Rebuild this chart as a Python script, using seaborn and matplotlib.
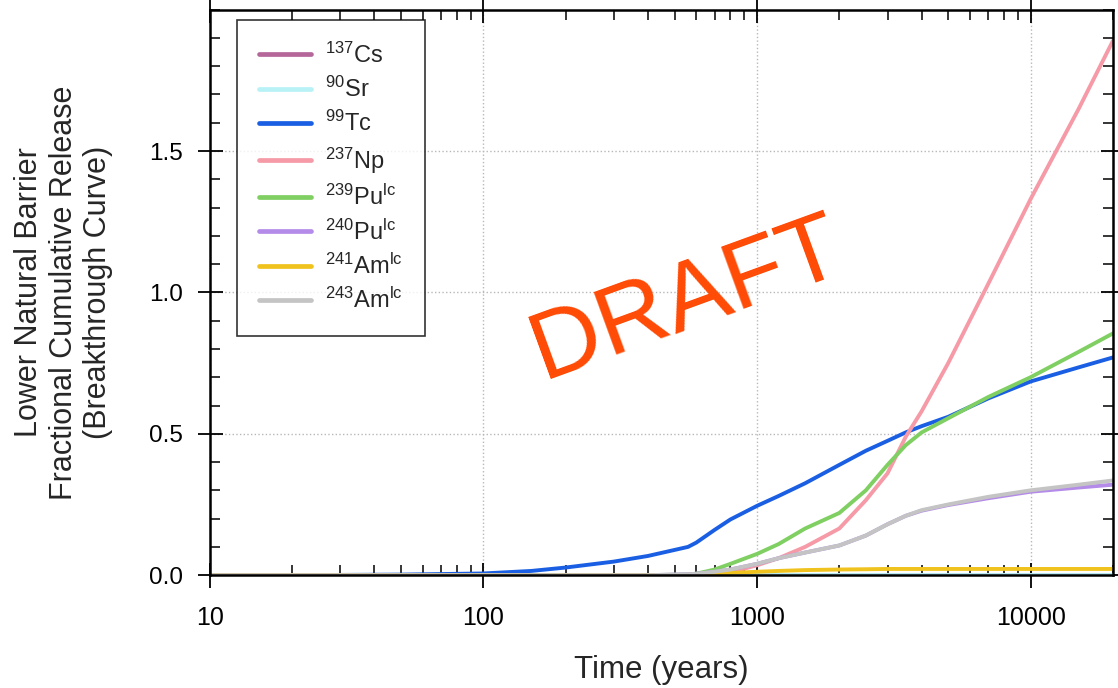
import numpy as np
import pandas as pd
import seaborn as sns
import matplotlib.pyplot as plt
from matplotlib.ticker import MultipleLocator, FixedLocator

# time points (years) shared by every curve
years = [10, 20, 50, 100, 150, 200, 300, 400, 560, 600, 700, 800, 1000, 1200,
         1500, 2000, 2500, 3000, 3500, 4000, 5000, 7000, 10000, 15000, 20000]

cs137 = [0.0] * 25
sr90 = [0.0] * 25
tc99 = [0.0, 0.0, 0.002, 0.006, 0.015, 0.027, 0.048, 0.068, 0.10, 0.115, 0.16,
        0.197, 0.245, 0.28, 0.325, 0.39, 0.44, 0.475, 0.505, 0.527, 0.56, 0.625,
        0.685, 0.735, 0.77]
np237 = [0.0, 0.0, 0.0, 0.0, 0.0, 0.0, 0.0, 0.0, 0.0, 0.0, 0.002, 0.01, 0.035,
         0.06, 0.10, 0.165, 0.265, 0.36, 0.49, 0.58, 0.75, 1.03, 1.33, 1.65, 1.89]
pu239 = [0.0, 0.0, 0.0, 0.0, 0.0, 0.0, 0.0, 0.0, 0.002, 0.005, 0.02, 0.04, 0.075,
         0.11, 0.165, 0.22, 0.30, 0.39, 0.46, 0.505, 0.555, 0.63, 0.70, 0.79, 0.855]
pu240 = [0.0, 0.0, 0.0, 0.0, 0.0, 0.0, 0.0, 0.0, 0.003, 0.005, 0.012, 0.02, 0.04,
         0.06, 0.08, 0.105, 0.14, 0.18, 0.21, 0.228, 0.248, 0.272, 0.295, 0.31, 0.32]
am241 = [0.0, 0.0, 0.0, 0.0, 0.0, 0.0, 0.0, 0.0, 0.0, 0.002, 0.005, 0.008, 0.012,
         0.015, 0.018, 0.02, 0.021, 0.022, 0.022, 0.022, 0.022, 0.022, 0.022, 0.022, 0.022]
am243 = [0.0, 0.0, 0.0, 0.0, 0.0, 0.0, 0.0, 0.0, 0.003, 0.005, 0.012, 0.02, 0.04,
         0.06, 0.08, 0.105, 0.14, 0.18, 0.21, 0.23, 0.25, 0.277, 0.30, 0.32, 0.335]

labels = [r'$^{137}$Cs', r'$^{90}$Sr', r'$^{99}$Tc', r'$^{237}$Np',
          r'$^{239}$Pu$^{lc}$', r'$^{240}$Pu$^{lc}$', r'$^{241}$Am$^{lc}$',
          r'$^{243}$Am$^{lc}$']
series = [cs137, sr90, tc99, np237, pu239, pu240, am241, am243]
colors = ['#b5679a', '#b8f2f6', '#1a5fe3', '#f59aa6', '#80cf62', '#b48be8',
          '#f0c21e', '#c4c4c4']

df = pd.concat([pd.DataFrame({'years': years, 'release': s, 'nuclide': lab})
                for lab, s in zip(labels, series)], ignore_index=True)

sns.set_theme(style='ticks')
plt.rcParams['font.family'] = ['Liberation Sans', 'DejaVu Sans']
plt.rcParams['mathtext.default'] = 'regular'

fig = plt.figure(figsize=(11.18, 6.88), dpi=100)
ax = fig.add_axes([0.1875, 0.164, 0.808, 0.822])

sns.lineplot(data=df, x='years', y='release', hue='nuclide', hue_order=labels,
             palette=colors, linewidth=2.8, ax=ax, legend=True, sort=False)

ax.set_xscale('log')
ax.set_xlim(10, 20000)
ax.set_ylim(0, 2.0)
ax.xaxis.set_major_locator(FixedLocator([10, 100, 1000, 10000]))
ax.set_xticklabels(['10', '100', '1000', '10000'], fontsize=18)
ax.yaxis.set_major_locator(FixedLocator([0.0, 0.5, 1.0, 1.5]))
ax.set_yticklabels(['0.0', '0.5', '1.0', '1.5'], fontsize=17.5)
ax.yaxis.set_minor_locator(MultipleLocator(0.1))

ax.tick_params(which='major', direction='inout', length=18, width=1.3,
               top=True, right=True, colors='black')
ax.tick_params(axis='x', which='major', pad=13)
ax.tick_params(axis='y', which='major', pad=10)
ax.tick_params(which='minor', direction='in', length=7, width=1.1,
               top=True, right=True, colors='black')

ax.grid(True, which='major', linestyle=':', color='#b8b8b8', linewidth=1.0)
for sp in ax.spines.values():
    sp.set_color('black')
    sp.set_linewidth(1.8)

ax.set_xlabel('Time (years)', fontsize=22.5, labelpad=18)
ax.set_ylabel('Lower Natural Barrier\nFractional Cumulative Release\n(Breakthrough Curve)',
              fontsize=22, labelpad=26, linespacing=1.2)

handles, labs = ax.get_legend_handles_labels()
leg = ax.legend(handles, labs, loc='upper left', bbox_to_anchor=(0.03, 0.982),
                borderaxespad=0, fontsize=17, frameon=True, fancybox=False,
                edgecolor='black', handlelength=2.2, labelspacing=0.39,
                borderpad=0.95, handletextpad=0.6)
leg.get_frame().set_linewidth(1.2)
for ln in leg.get_lines():
    ln.set_linewidth(3.4)

fig.text(0.614, 0.565, 'DRAFT', color='#ff4a05', fontsize=70, rotation=20,
         ha='center', va='center', rotation_mode='anchor')

fig.savefig('out.png', dpi=100)
